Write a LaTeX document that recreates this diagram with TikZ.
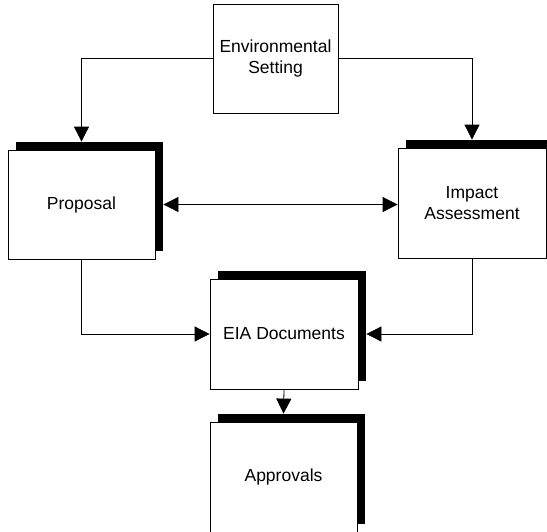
\documentclass[tikz,border=0pt]{standalone}
\usepackage{fontspec}
\setmainfont{Liberation Sans}
\usetikzlibrary{arrows.meta,shadows}
\begin{document}
\begin{tikzpicture}[x=1pt,y=-1pt,
  box/.style={draw=black,fill=white,line width=0.8pt,rectangle,align=center,
    inner sep=0pt,font=\fontsize{17.5}{21}\selectfont,text=black},
  shadowbox/.style={box,general shadow={fill=black,shadow xshift=8pt,shadow yshift=8pt}},
  conn/.style={line width=0.8pt,-{Triangle[length=15pt,width=15pt]}},
  conn2/.style={line width=0.8pt,{Triangle[length=15pt,width=15pt]}-{Triangle[length=15pt,width=15pt]}}]
\useasboundingbox (0,0) rectangle (547,531);
\clip (0,0) rectangle (547,531);
\node[box,minimum width=125pt,minimum height=109pt] (env) at (275.5,58.5) {Environmental\\Setting};
\node[shadowbox,minimum width=147pt,minimum height=109pt] (prop) at (81.5,204.5) {Proposal};
\node[shadowbox,minimum width=148pt,minimum height=110pt] (imp) at (472,203) {Impact\\Assessment};
\node[shadowbox,minimum width=148pt,minimum height=110pt] (eia) at (284,334) {EIA Documents};
\node[shadowbox,minimum width=147pt,minimum height=110pt] (appr) at (283.5,477) {Approvals};
\draw[conn] (env.west) -| ([yshift=8pt]prop.north);
\draw[conn] (env.east) -| ([yshift=8pt]imp.north);
\draw[conn2] ([xshift=8pt]prop.east) -- (imp.west |- prop.east);
\draw[conn] (prop.south) |- (eia.west);
\draw[conn] (imp.south) |- ([xshift=8pt]eia.east);
\draw[conn] (eia.south) -- ([yshift=8pt]appr.north);
\end{tikzpicture}
\end{document}
